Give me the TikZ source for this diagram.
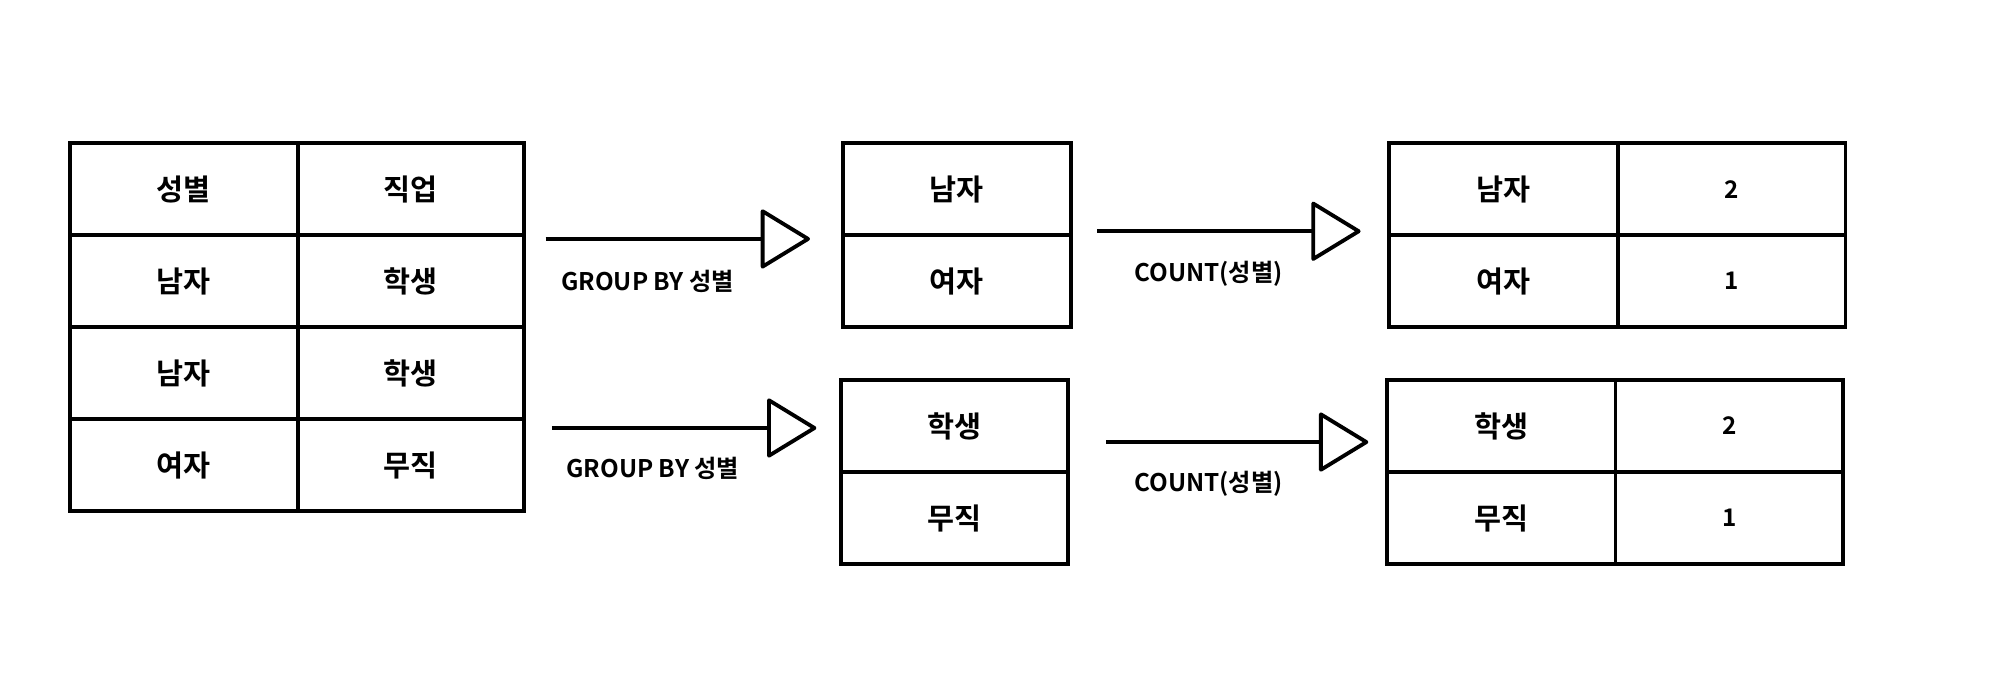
\documentclass[tikz,border=0pt]{standalone}
\usepackage{fontspec}
\setmainfont{Noto Sans CJK KR}[BoldFont={Noto Sans CJK KR Bold}]
\usetikzlibrary{arrows.meta}
\tikzset{
	cell/.style={draw, line width=3pt, minimum width=178pt, minimum height=72pt, inner sep=0pt, font=\bfseries\fontsize{23}{27}\selectfont},
	numcell/.style={cell, font=\bfseries\fontsize{19}{22}\selectfont},
	flow/.style={line width=3pt, -{Triangle[open, length=40pt, width=48pt, round]}},
	lab/.style={inner sep=0pt, font=\bfseries\fontsize{19}{22}\selectfont}
}
\begin{document}
\begin{tikzpicture}[x=1pt, y=-1pt]
		\useasboundingbox (0,0) rectangle (1560,531);
		% original table
		\foreach \r/\a/\b in {1/성별/직업, 2/남자/학생, 3/남자/학생, 4/여자/무직}
		{
			\pgfmathsetmacro{\yy}{148+72*(\r-1)}
			\node[cell] (a\r) at (144,\yy) {\a};
			\node[cell, minimum width=177pt] (b\r) at (321.5,\yy) {\b};
		}
		% grouped
		\node[cell] (m1) at (749,148) {남자};
		\node[cell] (m2) at (749,220) {여자};
		\node[cell] (n1) at (747,333.5) {학생};
		\node[cell] (n2) at (747,405.5) {무직};
		% counted
		\node[cell, minimum width=179pt] (p1) at (1177,148) {남자};
		\node[cell, minimum width=179pt] (p2) at (1177,220) {여자};
		\node[numcell] (q1) at (1355.5,148) {2};
		\node[numcell] (q2) at (1355.5,220) {1};
		\node[cell, minimum width=179pt] (u1) at (1175,333.5) {학생};
		\node[cell, minimum width=179pt] (u2) at (1175,405.5) {무직};
		\node[numcell] (v1) at (1353.5,333.5) {2};
		\node[numcell] (v2) at (1353.5,405.5) {1};
		% arrows
		\coordinate (g1s) at (427,187);
		\coordinate (g1e) at (634,187);
		\coordinate (g2s) at (432,335);
		\coordinate (g2e) at (639,335);
		\coordinate (c1s) at (859,181);
		\coordinate (c1e) at (1065,181);
		\coordinate (c2s) at (866,346);
		\coordinate (c2e) at (1071,346);
		\draw[flow] (g1s) -- (g1e);
		\draw[flow] (g2s) -- (g2e);
		\draw[flow] (c1s) -- (c1e);
		\draw[flow] (c2s) -- (c2e);
		\node[lab] (gl1) at (507,220) {GROUP BY 성별};
		\node[lab] (gl2) at (511,367) {GROUP BY 성별};
		\node[lab] (cl1) at (946,214) {COUNT(성별)};
		\node[lab] (cl2) at (946,379) {COUNT(성별)};
\end{tikzpicture}
\end{document}
